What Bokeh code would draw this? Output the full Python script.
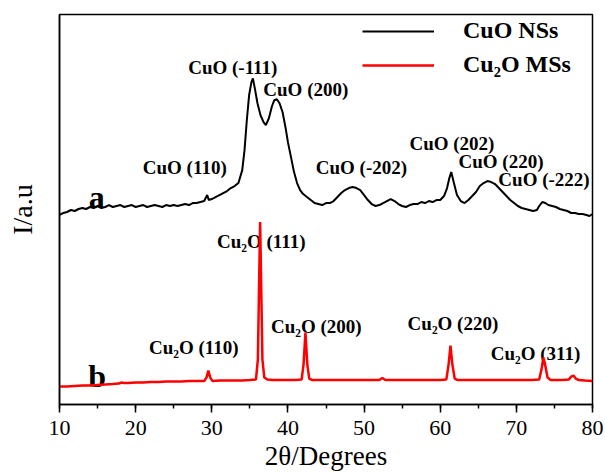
from bokeh.plotting import figure
from bokeh.models import Range1d, SingleIntervalTicker, FixedTicker, Legend, LegendItem
from bokeh.core.properties import value
from bokeh.embed import file_html
from bokeh.resources import INLINE

# ---- data: curve a (CuO NSs), 2theta and intensity (a.u.) ----
cuo_2theta = [10.0, 10.5, 11.0, 11.5, 12.0, 12.5, 13.0, 13.5, 14.0, 14.5, 15.0, 15.5, 16.0, 16.5,
              17.0, 17.5, 18.0, 18.5, 19.0, 19.5, 20.0, 20.5, 21.0, 21.5, 22.0, 22.5, 23.0, 23.5,
              24.0, 24.5, 25.0, 25.5, 26.0, 26.5, 27.0, 27.5, 28.0, 28.5, 29.0, 29.4, 29.6, 30.0,
              30.5, 31.0, 31.5, 32.0, 32.5, 33.0, 33.5, 34.0, 34.3, 34.6, 34.9, 35.2, 35.4, 35.7,
              36.0, 36.4, 36.8, 37.1, 37.5, 37.9, 38.2, 38.55, 38.9, 39.3, 39.7, 40.0, 40.4, 40.8,
              41.2, 41.6, 42.0, 42.5, 43.0, 43.5, 44.0, 44.5, 45.0, 45.5, 46.0, 46.5, 47.0, 47.5,
              48.0, 48.5, 49.0, 49.5, 50.0, 50.5, 51.0, 51.5, 52.0, 52.5, 53.0, 53.5, 54.0, 54.5,
              55.0, 55.5, 56.0, 56.5, 57.0, 57.5, 58.0, 58.5, 59.0, 59.5, 60.0, 60.5, 60.9, 61.2,
              61.45, 61.8, 62.2, 62.7, 63.2, 63.7, 64.2, 64.7, 65.2, 65.7, 66.2, 66.7, 67.2, 67.7,
              68.2, 68.7, 69.2, 69.7, 70.2, 70.7, 71.2, 71.7, 72.2, 72.7, 73.0, 73.4, 73.8, 74.2,
              74.7, 75.2, 75.7, 76.2, 76.7, 77.2, 77.7, 78.2, 78.7, 79.2, 79.6, 80.0]
cuo_intensity = [190, 192, 193, 195, 194, 196, 197, 196, 198, 197, 199, 197, 198, 200,
                 198, 199, 200, 198, 199, 200, 198, 199, 200, 198, 199, 200, 199, 198,
                 200, 199, 200, 199, 200, 201, 200, 202, 202, 203, 204, 210, 205, 206,
                 208, 210, 212, 214, 217, 219, 222, 235, 255, 285, 310, 323, 327, 315,
                 302, 290, 283, 280, 287, 299, 305, 306, 302, 293, 277, 263, 248, 233,
                 222, 215, 211, 208, 205, 202, 201, 200, 202, 202, 204, 208, 212, 215,
                 217, 218, 217, 215, 210, 205, 201, 199, 200, 202, 204, 206, 204, 201,
                 199, 198, 200, 201, 201, 203, 202, 204, 203, 205, 205, 209, 217, 227,
                 233, 222, 210, 204, 202, 205, 209, 213, 219, 222, 224, 223, 221, 217,
                 213, 209, 205, 202, 199, 197, 196, 195, 194, 195, 199, 203, 202, 200,
                 199, 198, 196, 195, 194, 192, 192, 191, 191, 190, 189, 191]

# ---- data: curve b (Cu2O MSs) ----
cu2o_2theta = [10.0, 11.0, 12.0, 13.0, 14.0, 15.0, 16.0, 17.0, 17.8, 18.1, 18.5, 19.0, 20.0,
               21.0, 22.0, 23.0, 24.0, 25.0, 26.0, 27.0, 28.0, 29.0, 29.3, 29.55, 29.8, 30.1,
               31.0, 32.0, 33.0, 34.0, 35.0, 35.8, 36.05, 36.2, 36.35, 36.5, 36.65, 36.9, 37.3,
               38.0, 39.0, 40.0, 41.0, 41.8, 42.05, 42.3, 42.55, 42.8, 43.2, 44.0, 45.0, 46.0,
               47.0, 48.0, 49.0, 50.0, 51.0, 52.0, 52.4, 52.8, 54.0, 55.0, 56.0, 57.0, 58.0,
               59.0, 60.0, 60.8, 61.1, 61.35, 61.6, 61.9, 62.3, 63.0, 64.0, 65.0, 66.0, 67.0,
               68.0, 69.0, 70.0, 71.0, 72.0, 73.0, 73.3, 73.55, 73.8, 74.1, 74.5, 75.0, 76.0,
               76.9, 77.2, 77.5, 77.8, 78.2, 79.0, 80.0]
cu2o_intensity = [18, 18, 18.5, 19, 19, 19.5, 20, 20.5, 21, 22, 21.5, 21.5, 22,
                  22, 22.5, 22.5, 23, 23, 23, 23.5, 23.5, 23.5, 27, 34, 27, 23.5,
                  24, 24, 24, 24, 24.5, 25, 45, 115, 183, 115, 45, 27, 25,
                  24.5, 24.5, 24.5, 24.5, 25, 40, 72, 40, 26, 24.5, 24.5, 24.5, 24.5,
                  24.5, 24.5, 24.5, 24.5, 24.5, 24.5, 26.5, 24.5, 24.5, 24.5, 24.5, 24.5, 24.5,
                  24.5, 24.5, 25, 40, 59, 40, 26, 24.5, 24.5, 24.5, 24.5, 24.5, 24.5,
                  24.5, 24.5, 24.5, 24.5, 24.5, 25, 35, 47, 39, 27, 24.5, 24.5, 24.5,
                  25, 28, 29, 26, 24.5, 24, 23.5]

# ---- peak labels ----
cuo_labels = ["CuO (-111)", "CuO (200)", "CuO (110)", "CuO (-202)", "CuO (202)", "CuO (220)", "CuO (-222)"]
cuo_label_x = [32.76, 42.35, 26.45, 49.65, 61.54, 67.98, 73.63]
cuo_label_y = [338, 316, 238, 238, 262, 244, 226]
cu2o_labels = ["Cu\u2082O (111)", "Cu\u2082O (200)", "Cu\u2082O (110)", "Cu\u2082O (220)", "Cu\u2082O (311)"]
cu2o_label_x = [36.5, 43.73, 27.63, 61.67, 72.51]
cu2o_label_y = [163, 78, 57, 81, 51]
curve_tags = ["a", "b"]
curve_tag_x = [14.89, 14.95]
curve_tag_y = [208, 29]

SERIF = "Liberation Serif"

p = figure(width=605, height=473, output_backend="svg", toolbar_location=None,
           x_range=Range1d(10, 80), y_range=Range1d(0, 391),
           min_border_left=59, min_border_right=13, min_border_top=14, min_border_bottom=68)
p.background_fill_color = "white"
p.border_fill_color = "white"
p.xgrid.visible = False
p.ygrid.visible = False
p.outline_line_color = "black"
p.outline_line_width = 1.5
p.outline_line_alpha = 1.0

# x axis
xa = p.xaxis[0]
xa.ticker = SingleIntervalTicker(interval=10, num_minor_ticks=2)
xa.axis_line_width = 1.5
xa.major_tick_line_width = 1.5
xa.minor_tick_line_width = 1.5
xa.major_tick_in = 0
xa.major_tick_out = 8
xa.minor_tick_in = 0
xa.minor_tick_out = 4
xa.major_label_text_font = SERIF
xa.major_label_text_font_size = "22px"
xa.major_label_text_color = "black"
xa.major_label_standoff = 8
xa.axis_label = "2\u03b8/Degrees"
xa.axis_label_text_font = SERIF
xa.axis_label_text_font_size = "27px"
xa.axis_label_text_font_style = "normal"
xa.axis_label_text_color = "black"
xa.axis_label_standoff = 3

# y axis
ya = p.yaxis[0]
ya.ticker = FixedTicker(ticks=[])
ya.axis_line_width = 1.5
ya.major_tick_line_color = None
ya.minor_tick_line_color = None
ya.major_label_text_font_size = "0px"
ya.axis_label = "I/a.u"
ya.axis_label_text_font = SERIF
ya.axis_label_text_font_size = "28px"
ya.axis_label_text_font_style = "normal"
ya.axis_label_text_color = "black"
ya.axis_label_standoff = 22

# labels (drawn first so curves sit on top)
p.text(x=cuo_label_x, y=cuo_label_y, text=cuo_labels, text_font=value(SERIF),
       text_font_style="bold", text_font_size="19px", text_align="center",
       text_baseline="middle", text_color="black")
p.text(x=cu2o_label_x, y=cu2o_label_y, text=cu2o_labels, text_font=value(SERIF),
       text_font_style="bold", text_font_size="19px", text_align="center",
       text_baseline="middle", text_color="black")
p.text(x=curve_tag_x, y=curve_tag_y, text=curve_tags, text_font=value(SERIF),
       text_font_style="bold", text_font_size="32px", text_align="center",
       text_baseline="alphabetic", text_color="black")

# curves
r_a = p.line(cuo_2theta, cuo_intensity, line_color="black", line_width=2)
r_b = p.line(cu2o_2theta, cu2o_intensity, line_color="#ff0000", line_width=2.5)

legend = Legend(items=[LegendItem(label="CuO NSs", renderers=[r_a]),
                       LegendItem(label="Cu\u2082O MSs", renderers=[r_b])],
                location=(303, 326))
legend.background_fill_alpha = 0
legend.border_line_color = None
legend.padding = 5
legend.spacing = 7
legend.glyph_width = 72
legend.glyph_height = 20
legend.label_height = 20
legend.label_standoff = 29
legend.label_text_font = SERIF
legend.label_text_font_style = "bold"
legend.label_text_font_size = "24px"
legend.label_text_color = "black"
legend.label_text_baseline = "middle"
p.add_layout(legend, "center")

open("out.html", "w").write(file_html(p, INLINE))
